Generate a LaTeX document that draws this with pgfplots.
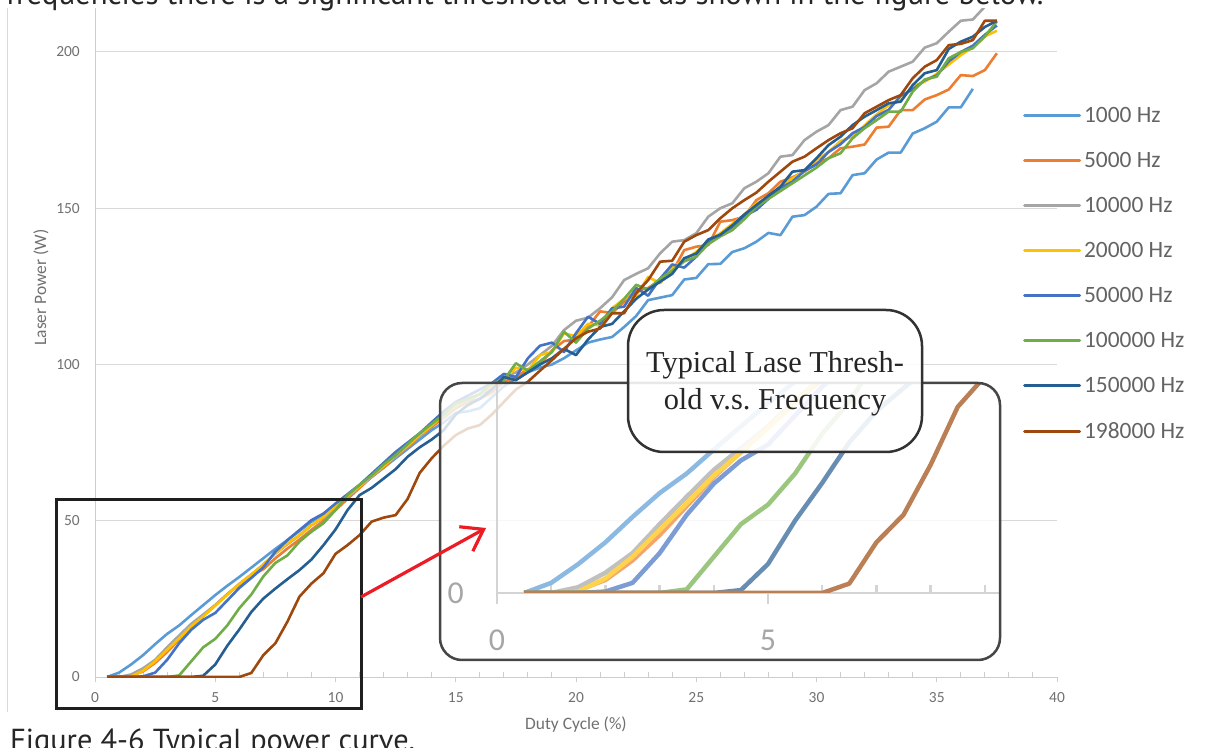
\documentclass[border=0pt]{standalone}
\usepackage{fontspec}
\setmainfont{Carlito}
\newfontfamily\pagefont{PT Sans}
\newfontfamily\callfont{Liberation Serif}
\usepackage{pgfplots}
\pgfplotsset{compat=1.18}
\usepackage{pgfplotstable}
\usetikzlibrary{arrows.meta}
\frenchspacing

\definecolor{cA}{RGB}{91,155,213}
\definecolor{cB}{RGB}{237,125,49}
\definecolor{cC}{RGB}{165,165,165}
\definecolor{cD}{RGB}{255,192,0}
\definecolor{cE}{RGB}{68,114,196}
\definecolor{cF}{RGB}{112,173,71}
\definecolor{cG}{RGB}{37,94,145}
\definecolor{cH}{RGB}{158,72,14}
\definecolor{gridgray}{RGB}{217,217,217}
\definecolor{axisgray}{RGB}{205,205,205}
\definecolor{ticktext}{RGB}{112,112,112}
\definecolor{legtext}{RGB}{100,100,100}
\definecolor{insetgray}{RGB}{212,212,212}
\definecolor{insettext}{RGB}{166,166,166}
\definecolor{boxgray}{RGB}{70,70,70}
\definecolor{callgray}{RGB}{50,50,50}
\definecolor{arrowred}{RGB}{237,28,36}

\newcommand{\fs}[1]{\fontsize{#1}{#1}\selectfont}

% duty cycle (%) vs laser power (W); a..h = 1000 ... 198000 Hz
\pgfplotstableread{
x    a     b     c     d     e     f     g     h
0.5  0     0     0     0     0     0     0     0
1.0  1.4   0     0     0     0     0     0     0
1.5  4     0.4   0.8   0.2   0     0     0     0
2.0  7     1.8   2.8   2     0.2   0     0     0
2.5  10.5  4.5   5.5   5     1.4   0     0     0
3.0  13.8  8     9.5   8.7   5.5   0     0     0
3.5  16.5  12    13.3  12.4  10.8  0.5   0     0
4.0  19.8  16    17    16.2  15.1  5     0     0
4.5  23    19.5  20    19.4  18.3  9.5   0.4   0
5.0  26.2  23    23    22.8  20.5  12.2  4     0
5.5  29.2  26.5  26.5  26.3  24.5  16.5  10    0
6.0  32    29.5  29.8  29.8  28.5  22    15.2  0
6.5  35    32.5  32.8  32.8  31.7  26.4  20.8  1.3
7.0  38    34.5  36    36    35.1  32.2  25.1  7
7.5  41    38    39.5  39.6  40.1  36.5  28.3  10.8
8.0  43.8  41.1  42.5  42.7  43.8  38.9  31.3  17.7
8.5  46.7  44    45.3  45.4  47    43.3  34.2  25.7
9.0  49.7  47.1  48.5  48.6  50.2  46.5  37.6  29.9
9.5  52    50    51    51.2  52.3  49.2  42.2  33.2
10.0 55    53.4  54.5  54.7  55.5  53.4  47.2  39.4
10.5 58    57    57.5  58    58.5  58.2  53.4  42.2
11.0 61    60.5  61    61    61.5  61.5  58.2  45.4
11.5 64    64    64    64.5  65    64.5  60.5  49.7
12.0 67    67    67.5  67.5  68.5  68    63.5  51
12.5 70    70.5  70.5  71    72    71    66.5  51.8
13.0 73    73.5  74    74    75    74.5  70.5  57
13.5 76    77    77    77.5  78    78    73.5  65.3
14.0 79    80    80.5  80.5  81.5  81    76    70
14.5 81.5  83    83.5  84    85    84    79    74
15.0 84.5  86    86.5  87    88    87.5  84    77.4
15.5 85    88    88.5  89    90    89    87    79.5
16.0 86    89    90.5  90.5  92    90.5  89    80.6
16.5 89.5  91    92.5  93.5  94    94    92    84
17.0 93    94.5  96    95    97    95    96    88
17.5 95.5  96    97.5  99    96    100.4 95    92
18.0 97.5  98.5  100   98    102   98    97.5  94.5
18.5 99    100   103   103   106   101   100   98
19.0 100   104.5 106   104   107   104   102   101.4
19.5 102   107.5 111   110   104   110.5 105   105
20.0 104.5 108   114   109   110   107   103   108.4
20.5 107   112   115   113   115.3 111.5 108   110.5
21.0 108   117   118   112.5 113   114   112   111.5
21.5 108.8 116.5 121.5 118  118   117   113   116.4
22.0 112   120   127   121   118.5 121   117   116.4
22.5 115.5 123.5 129  122   124.5 125.5 121   122.8
23.0 120.6 124.5 130.8 128  122   124   124   127
23.5 121.4 127   135.6 126   127.5 127.5 126.5 132.9
24.0 122.2 129.5 139.3 131  132   130   129   133.2
24.5 127.2 136.6 139.8 133.5 131 133   134   139.3
25.0 127.7 137.7 142  136   134.5 134.5 135.5 141.4
25.5 132.1 138.2 147.3 139.5 139 138.5 140  143
26.0 132.2 145.7 150  142   141.5 141  141.5 146.8
26.5 136   146.2 151.6 145  144   143   144.5 150
27.0 137.2 147.3 156.4 148 147.5 146.5 148  152.6
27.5 139.3 152.6 158.5 151.5 149.5 150.5 151 155
28.0 142.1 154.8 161.2 153.5 153 153 154   158.5
28.5 141.4 158.5 166.5 157 156.5 155.5 156.9 161.7
29.0 147.3 159.9 167  159.5 158.5 158  161.7 164.9
29.5 147.8 161.7 171.8 162 162  160.5 162.2 166.5
30.0 150.5 164.4 174.5 165.5 164 163 166   169.2
30.5 154.6 166   176.6 168  168  166  170.2 171.8
31.0 154.8 169.2 181.4 171.5 170.5 167.6 172.9 174
31.5 160.6 169.7 182.5 173 174 172.4 176.6 175.6
32.0 161.2 170.4 187.8 176.5 176 175.6 179.3 180.4
32.5 165.6 175.8 190 180 179.5 178.2 181.4 182.5
33.0 167.8 176.1 193.7 183 181.5 180.9 183.6 184.6
33.5 167.8 181.4 195.3 184.5 186 180.9 184.1 186.2
34.0 173.9 181.4 196.9 189 188 187.3 189.4 191.6
34.5 175.6 184.8 201.4 190.5 191 191.2 193.2 195.3
35.0 177.7 186.2 202.8 193 192.5 192.1 194.2 197.4
35.5 182.3 188 206.5 196 197 198 201 202.2
36.0 182.3 192.6 210 199 200 200 203.3 202.6
36.5 188.2 192.3 210.4 201.5 202 201.2 204.9 203.8
37.0 nan 194.2 214.5 205 205.5 205 208 210
37.5 nan 199.6 219 206.8 208.5 209.8 210 210
}\powerdata

\begin{document}
\begin{tikzpicture}
\path[use as bounding box] (0,0) rectangle (1207bp,748bp);

% page text around the chart
\draw[gridgray, line width=1bp] (7bp,36bp) -- (7bp,740bp);
\node[anchor=base west, inner sep=0pt, font=\pagefont\fs{31}, text=black!85]
  at (6bp,743bp) {frequencies there is a significant threshold effect as shown in the figure below.};
\node[anchor=base west, inner sep=0pt, font=\pagefont\fs{30.5}, text=black!85]
  at (10bp,-2.2bp) {Figure 4-6 Typical power curve.};

\begin{axis}[
  at={(95bp,71bp)}, anchor=south west,
  scale only axis, width=962bp, height=668.75bp,
  xmin=0, xmax=40, ymin=0, ymax=214,
  axis x line*=bottom, axis y line*=left,
  every outer x axis line/.append style={-},
  every outer y axis line/.append style={-},
  every inner x axis line/.append style={-},
  every inner y axis line/.append style={-},
  axis line style={draw=axisgray, line width=1bp},
  xtick={0,5,...,40},
  minor xtick={1,2,3,4,6,7,8,9,11,12,13,14,16,17,18,19,21,22,23,24,26,27,28,29,31,32,33,34,36,37,38,39},
  ytick={0,50,...,200},
  ymajorgrids, grid style={draw=gridgray, line width=1bp},
  tick align=outside, major tick length=5bp, minor tick length=-5bp,
  xtick style={draw=axisgray, line width=1bp},
  ytick style={draw=none},
  /pgf/number format/assume math mode=true,
  tick label style={font=\fs{15.5}, text=ticktext, inner sep=0pt},
  x tick label style={anchor=center, yshift=-16bp},
  y tick label style={anchor=east, xshift=-10bp},
  xlabel={Duty Cycle (\%)}, ylabel={Laser Power (W)},
  label style={font=\fs{17.5}, text=ticktext, inner sep=0pt},
  xlabel style={at={(axis description cs:0.5,-0.0718)}, anchor=center},
  ylabel style={at={(axis description cs:-0.0561,0.5824)}, anchor=center},
  unbounded coords=jump,
  every axis plot/.append style={line width=2.6bp, line join=round, no markers},
  legend style={at={(axis description cs:0.9647,0.8516)}, anchor=north west,
    draw=none, fill=none, inner sep=0pt, outer sep=0pt,
    font=\fs{23.5}, text=legtext, row sep=28.3bp, column sep=3bp,
    nodes={inner sep=0pt}},
  legend cell align=left,
  legend image code/.code={\draw[#1, line width=3bp, line cap=round] (0bp,0bp) -- (55bp,0bp);},
]
\addplot[cA] table[x=x,y=a] {\powerdata};
\addplot[cB] table[x=x,y=b] {\powerdata};
\addplot[cC] table[x=x,y=c] {\powerdata};
\addplot[cD] table[x=x,y=d] {\powerdata};
\addplot[cE] table[x=x,y=e] {\powerdata};
\addplot[cF] table[x=x,y=f] {\powerdata};
\addplot[cG] table[x=x,y=g] {\powerdata};
\addplot[cH] table[x=x,y=h] {\powerdata};
\legend{1000 Hz,5000 Hz,10000 Hz,20000 Hz,50000 Hz,100000 Hz,150000 Hz,198000 Hz}
\end{axis}

% zoomed inset of the low duty cycle range
\fill[white, opacity=0.8, rounded corners=22bp] (440bp,88bp) rectangle (1000bp,365bp);

\begin{axis}[
  at={(497bp,155bp)}, anchor=south west,
  scale only axis, width=503bp, height=210bp,
  xmin=0, xmax=9.28, ymin=0, ymax=29,
  axis x line*=bottom, axis y line*=left,
  every outer x axis line/.append style={-},
  every outer y axis line/.append style={-},
  every inner x axis line/.append style={-},
  every inner y axis line/.append style={-},
  axis line style={draw=insetgray, line width=2.5bp},
  xtick={0,5}, minor xtick={1,2,3,4,6,7,8,9}, ytick={0},
  tick align=outside, major tick length=11bp, minor tick length=-8bp,
  xtick style={draw=insetgray, line width=2.5bp},
  ytick style={draw=none},
  /pgf/number format/assume math mode=true,
  tick label style={font=\fs{32}, text=insettext, inner sep=0pt},
  x tick label style={anchor=center, yshift=-36bp},
  y tick label style={anchor=east, xshift=-22bp},
  unbounded coords=jump,
  every axis plot/.append style={line width=4.5bp, line join=round, no markers},
]
\addplot[cA!70!white] table[x=x,y=a] {\powerdata};
\addplot[cB!70!white] table[x=x,y=b] {\powerdata};
\addplot[cC!70!white] table[x=x,y=c] {\powerdata};
\addplot[cD!70!white] table[x=x,y=d] {\powerdata};
\addplot[cE!70!white] table[x=x,y=e] {\powerdata};
\addplot[cF!70!white] table[x=x,y=f] {\powerdata};
\addplot[cG!70!white] table[x=x,y=g] {\powerdata};
\addplot[cH!70!white] table[x=x,y=h] {\powerdata};
\end{axis}

\draw[boxgray, line width=2.5bp, rounded corners=22bp] (440bp,88bp) rectangle (1000bp,365bp);

% callout
\filldraw[fill=white, fill opacity=0.88, draw=callgray, line width=2.5bp, rounded corners=36bp]
  (628bp,296bp) rectangle (922bp,438bp);
\node[anchor=base, inner sep=0pt, font=\callfont\fs{30.5}, text=black!85] at (775bp,375bp) {Typical Lase Thresh-};
\node[anchor=base, inner sep=0pt, font=\callfont\fs{30.5}, text=black!85] at (775bp,338bp) {old v.s. Frequency};

% zoom region and arrow
\draw[black!88, line width=3bp] (56bp,39bp) rectangle (361bp,248bp);
\draw[arrowred, line width=3.2bp, -{Straight Barb[length=20bp,width=28bp,line width=3.2bp]}]
  (361bp,151bp) -- (486bp,220bp);
\end{tikzpicture}
\end{document}
